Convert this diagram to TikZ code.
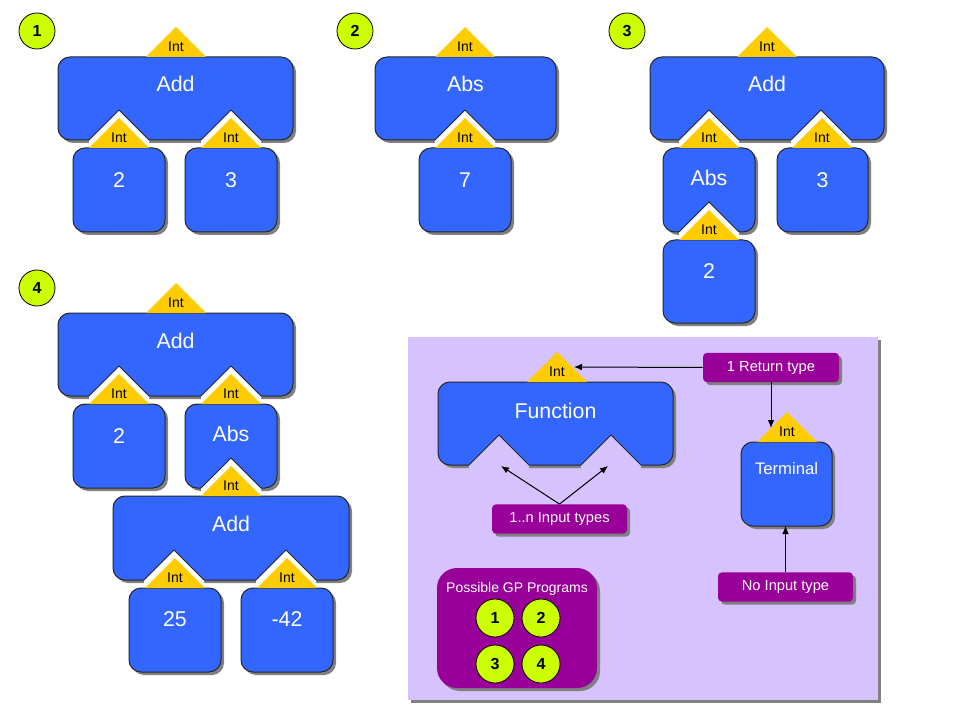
\documentclass[tikz,border=0pt]{standalone}
\usepackage{fontspec}
\setmainfont{Liberation Sans}
\usetikzlibrary{arrows.meta,shadows}
\definecolor{gpblue}{HTML}{3366FF}
\definecolor{gpyellow}{HTML}{FFCC00}
\definecolor{gpgreen}{HTML}{CCFF00}
\definecolor{gppurple}{HTML}{990099}
\definecolor{gplav}{HTML}{D5C2FF}
\definecolor{gpshadow}{HTML}{808080}
\tikzset{
 outl/.style={draw=black!85, line width=0.75pt},
 boxlabel/.style={text=white, font=\fontsize{16}{18}\selectfont, inner sep=0pt},
 intlabel/.style={text=black, font=\fontsize{10.5}{12}\selectfont, inner sep=0pt},
 numcirc/.style={circle, fill=gpgreen, draw=black, line width=0.6pt, minimum size=27pt, inner sep=0pt, font=\bfseries\fontsize{12}{14}\selectfont},
 tag/.style={fill=gppurple, rounded corners=3pt, text=white, font=\fontsize{11}{13}\selectfont, inner sep=0pt, text height=8pt, text depth=2.2pt, minimum height=22pt, general shadow={fill=gpshadow, shadow xshift=2.25pt, shadow yshift=-2.25pt}},
 conn/.style={-{Latex[length=6pt,width=5pt]}, line width=0.75pt, black},
}
\newcommand\GPbox[7]{%
 \fill[gpshadow, rounded corners=9pt] ({#2+3},{#3+3}) rectangle ({#4+3},{#5+3});
 \draw[outl, fill=gpblue, rounded corners=9pt] (#2,#3) rectangle (#4,#5);
 \node[boxlabel] (#1) at ({(#2+#4)/2},#7) {#6};
}
\newcommand\GPnotch[3]{%
 \fill[#3] ({#1-30},#2) -- (#1,{#2-30}) -- ({#1+30},#2) -- ({#1+30},{#2+4}) -- ({#1-30},{#2+4}) -- cycle;
 \draw[outl] ({#1-30},#2) -- (#1,{#2-30}) -- ({#1+30},#2);
}
\newcommand\GPint[3]{%
 \fill[gpyellow] ({#2-30},#3) -- (#2,{#3-30}) -- ({#2+30},#3) -- cycle;
 \node[intlabel] (#1) at (#2,{#3-10}) {Int};
}
\begin{document}
\begin{tikzpicture}[x=0.75pt,y=-0.75pt]
\useasboundingbox (0,0) rectangle (960,720);
\fill[white] (0,0) rectangle (960,720);

% ---------- group 1
\node[numcirc] (c1) at (37,31) {1};
\GPbox{a1}{58}{57}{293}{140}{Add}{84}
\GPint{a1i}{176}{57}
\GPnotch{119}{140}{white}
\GPnotch{231}{140}{white}
\GPbox{a1l}{73}{148}{165}{232}{2}{180}
\GPint{a1li}{119}{148}
\GPbox{a1r}{185}{148}{277}{232}{3}{180}
\GPint{a1ri}{231}{148}

% ---------- group 2
\node[numcirc] (c2) at (355,31) {2};
\GPbox{b1}{375}{57}{556}{140}{Abs}{84}
\GPint{b1i}{465}{57}
\GPnotch{465}{140}{white}
\GPbox{b1c}{419}{148}{511}{232}{7}{180}
\GPint{b1ci}{465}{148}

% ---------- group 3
\node[numcirc] (c3) at (627,31) {3};
\GPbox{d1}{650}{57}{884}{140}{Add}{84}
\GPint{d1i}{767}{57}
\GPnotch{709}{140}{white}
\GPnotch{821}{140}{white}
\GPbox{d1l}{663}{148}{755}{232}{Abs}{178}
\GPint{d1li}{709}{148}
\GPnotch{709}{232}{white}
\GPbox{d1r}{777}{148}{868}{232}{3}{180}
\GPint{d1ri}{822}{148}
\GPbox{d1ll}{663}{240}{755}{323}{2}{271}
\GPint{d1lli}{709}{240}

% ---------- group 4
\node[numcirc] (c4) at (37,288) {4};
\GPbox{e1}{58}{313}{293}{396}{Add}{341}
\GPint{e1i}{176}{313}
\GPnotch{119}{396}{white}
\GPnotch{231}{396}{white}
\GPbox{e1l}{73}{404}{165}{488}{2}{436}
\GPint{e1li}{119}{404}
\GPbox{e1r}{185}{404}{277}{488}{Abs}{434}
\GPint{e1ri}{231}{404}
\GPnotch{231}{488}{white}
\GPbox{e2}{113}{496}{349}{580}{Add}{524}
\GPint{e2i}{231}{496}
\GPnotch{174}{580}{white}
\GPnotch{286}{580}{white}
\GPbox{e2l}{129}{588}{221}{672}{25}{619}
\GPint{e2li}{175}{588}
\GPbox{e2r}{241}{588}{333}{672}{-42}{619}
\GPint{e2ri}{287}{588}

% ---------- legend panel
\fill[gpshadow] (411,340) rectangle (881,703);
\fill[gplav] (408,337) rectangle (878,700);

\GPbox{fn}{438}{382}{673}{465}{Function}{411}
\GPint{fni}{557}{382}
\GPnotch{499}{465}{gplav}
\GPnotch{611}{465}{gplav}

\GPbox{tm}{741}{442}{832}{526}{\fontsize{12.5}{14}\selectfont Terminal}{469}
\GPint{tmi}{787}{442}

\node[tag, minimum width=102pt] (rt) at (771,367.5) {1 Return type};
\node[tag, minimum width=101.25pt] (inp) at (559.5,519) {1..n Input types};
\node[tag, minimum width=101.25pt] (noin) at (785.5,587) {No Input type};

\coordinate (fniR) at (574,367);
\coordinate (tmiL) at (771,428);
\coordinate (n1) at (501,466);
\coordinate (n2) at (608,466);
\coordinate (tmB) at (785.5,526);
\draw[conn] (rt.west) -- (fniR);
\draw[conn] (rt.south) -- (tmiL);
\draw[conn] (inp.north) -- (n1);
\draw[conn] (inp.north) -- (n2);
\draw[conn] (noin.north) -- (tmB);

\fill[gpshadow, rounded corners=15pt] (440,571) rectangle (600,691);
\fill[gppurple, rounded corners=15pt] (437,568) rectangle (597,688);
\node[text=white, font=\fontsize{10.5}{12}\selectfont, inner sep=0pt] (pgp) at (517,589) {Possible GP Programs};
\node[numcirc, minimum size=28.5pt] (p1) at (495,618) {1};
\node[numcirc, minimum size=28.5pt] (p2) at (541,618) {2};
\node[numcirc, minimum size=28.5pt] (p3) at (495,664) {3};
\node[numcirc, minimum size=28.5pt] (p4) at (541,664) {4};
\end{tikzpicture}
\end{document}
